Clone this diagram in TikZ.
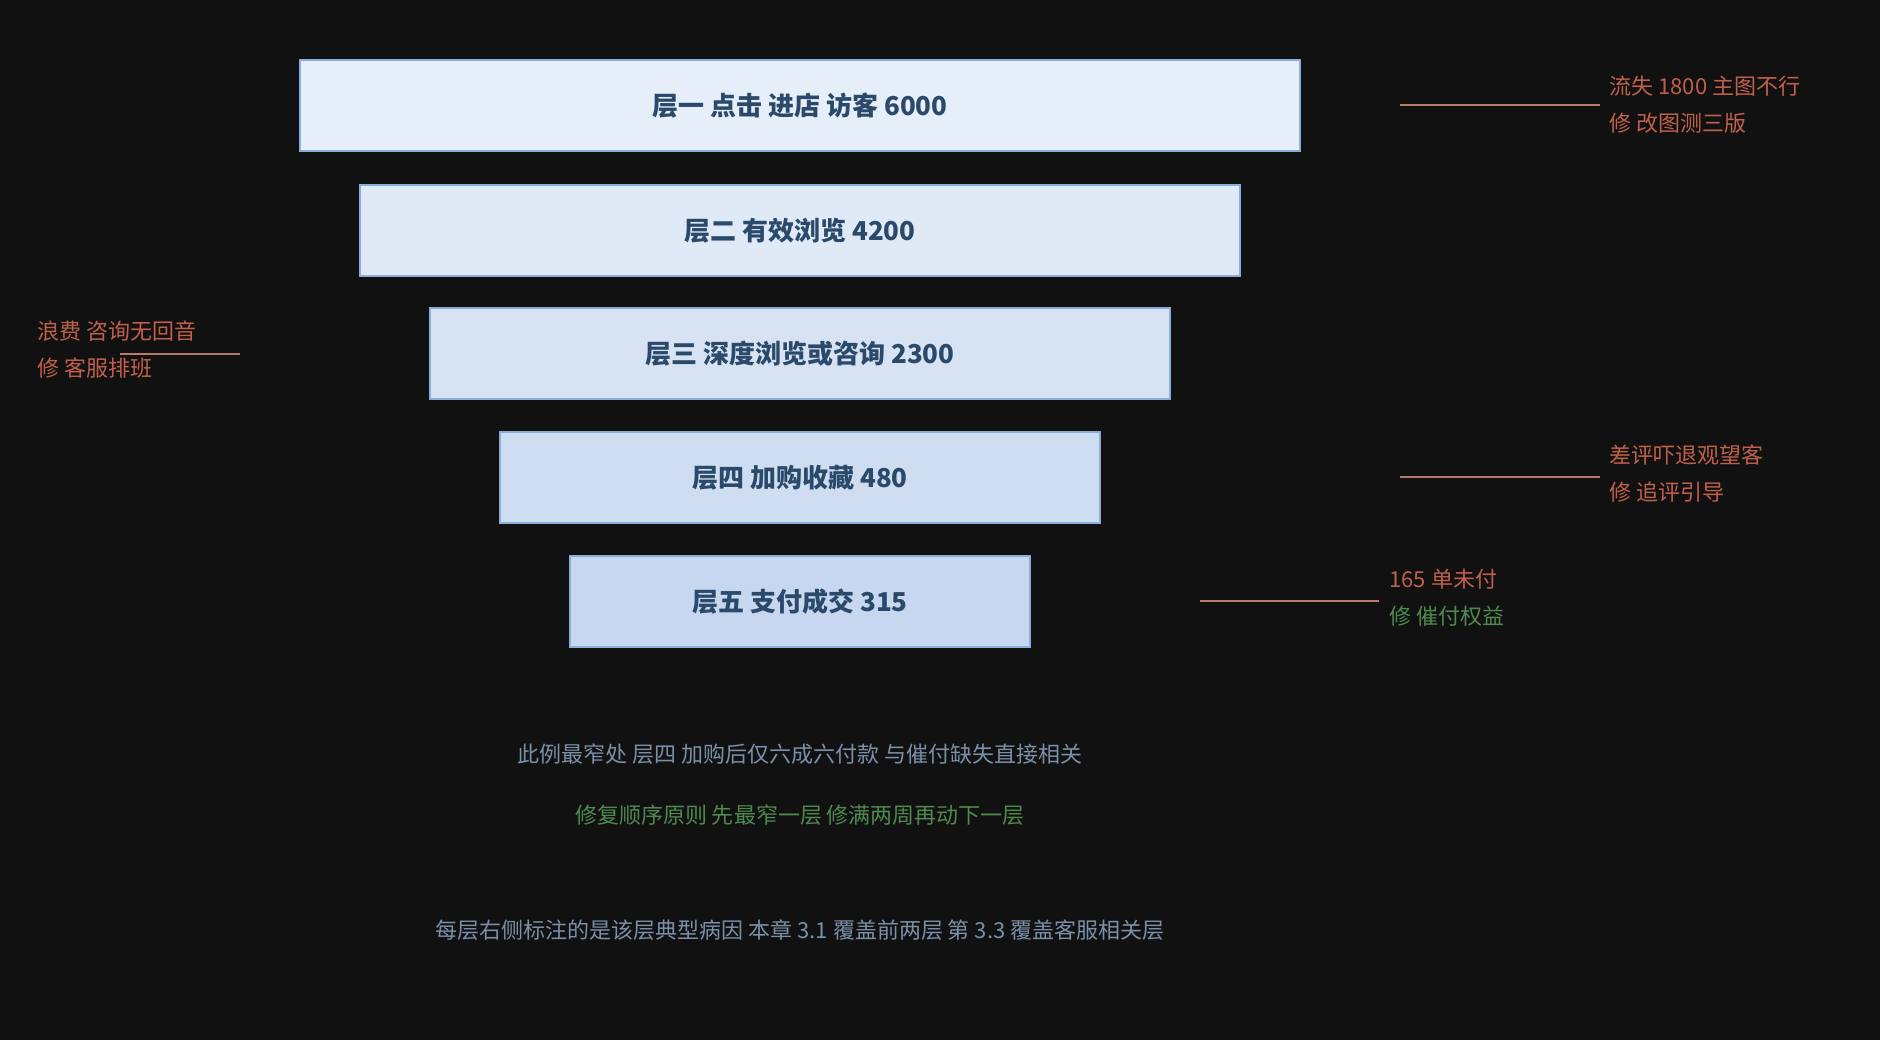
\documentclass[tikz,border=0pt]{standalone}
\usepackage{fontspec}
\setmainfont{Noto Sans CJK SC}
\begin{document}
\begin{tikzpicture}[x=1pt,y=-1pt,
  box/.style={draw=boxline,line width=1.5pt,minimum height=91pt,inner sep=0pt,text=boxtext,font=\fontsize{26}{30}\selectfont\bfseries},
  note/.style={anchor=west,align=left,text=warn,font=\fontsize{22}{37}\selectfont},
  lead/.style={draw=leadc,line width=2.5pt},
  captxt/.style={font=\fontsize{22}{26}\selectfont}]
\definecolor{bg}{HTML}{111111}
\definecolor{boxline}{HTML}{8AAEDC}
\definecolor{boxtext}{HTML}{2B4A6B}
\definecolor{warn}{HTML}{C0604A}
\definecolor{leadc}{HTML}{B87A6A}
\definecolor{okc}{HTML}{4E8A4E}
\definecolor{muted}{HTML}{7A8FA8}
\definecolor{f1}{HTML}{E6EEF9}
\definecolor{f2}{HTML}{E0EAF6}
\definecolor{f3}{HTML}{D7E3F2}
\definecolor{f4}{HTML}{CFDDF0}
\definecolor{f5}{HTML}{C7D7EF}
\fill[bg] (0,0) rectangle (1880,1040);
\useasboundingbox (0,0) rectangle (1880,1040);
\node[box,fill=f1,minimum width=1000pt] (b1) at (800,105.5) {层一 点击 进店 访客 6000};
\node[box,fill=f2,minimum width=880pt] (b2) at (800,230.5) {层二 有效浏览 4200};
\node[box,fill=f3,minimum width=740pt] (b3) at (800,353.5) {层三 深度浏览或咨询 2300};
\node[box,fill=f4,minimum width=600pt] (b4) at (800,477.5) {层四 加购收藏 480};
\node[box,fill=f5,minimum width=460pt] (b5) at (800,601.5) {层五 支付成交 315};
\coordinate (l1a) at (1400,105); \coordinate (l1b) at (1600,105);
\draw[lead] (l1a) -- (l1b);
\node[note] (n1) at (1606,105) {流失 1800 主图不行\\修 改图测三版};
\coordinate (l4a) at (1400,477); \coordinate (l4b) at (1600,477);
\draw[lead] (l4a) -- (l4b);
\node[note] (n4) at (1606,474) {差评吓退观望客\\修 追评引导};
\coordinate (l5a) at (1200,601); \coordinate (l5b) at (1379,601);
\draw[lead] (l5a) -- (l5b);
\node[note] (n5) at (1386,598) {165 单未付\\\textcolor{okc}{修 催付权益}};
\coordinate (l3a) at (120,354); \coordinate (l3b) at (240,354);
\draw[lead] (l3a) -- (l3b);
\node[note] (n3) at (34,350) {浪费 咨询无回音\\修 客服排班};
\node[captxt,text=muted] (c1) at (800,754) {此例最窄处 层四 加购后仅六成六付款 与催付缺失直接相关};
\node[captxt,text=okc] (c2) at (800,815) {修复顺序原则 先最窄一层 修满两周再动下一层};
\node[captxt,text=muted] (c3) at (800,930) {每层右侧标注的是该层典型病因 本章 3.1 覆盖前两层 第 3.3 覆盖客服相关层};
\end{tikzpicture}
\end{document}
